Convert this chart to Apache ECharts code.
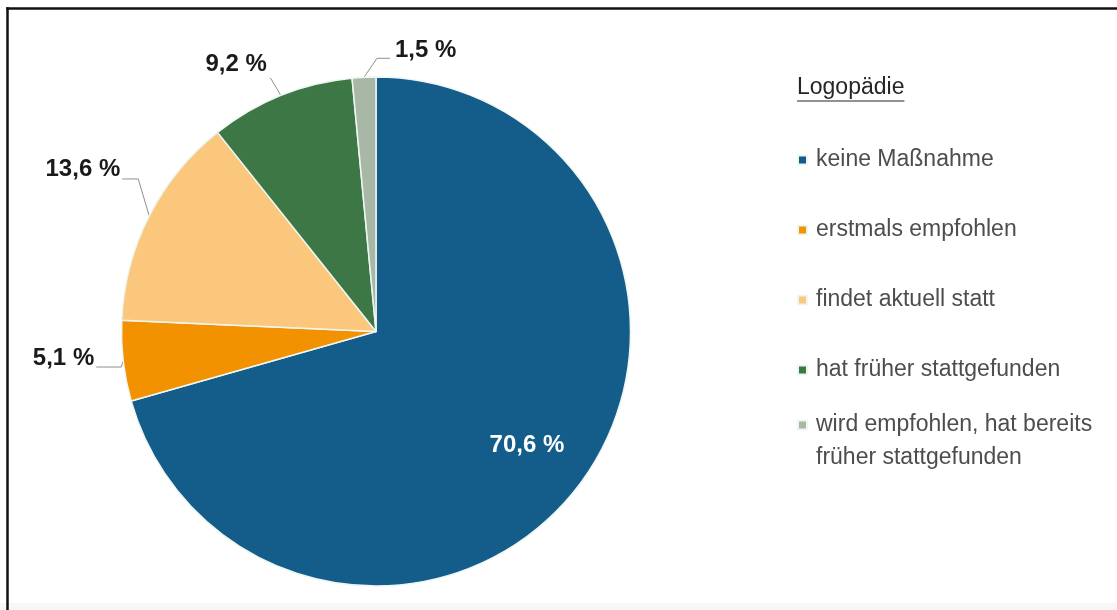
<!DOCTYPE html>
<html>
<head>
<meta charset="utf-8">
<script src="https://cdn.jsdelivr.net/npm/echarts@6/dist/echarts.min.js"></script>
<style>
  html, body { margin: 0; padding: 0; background: #ffffff; overflow: hidden; }
  #chart { width: 1117px; height: 610px; }
</style>
</head>
<body>
<div id="chart"></div>
<script>
// Logopädie – Anteile der Kinder nach Maßnahme (in %)
const seriesTitle = 'Logopädie';
const categories = [
  'keine Maßnahme',
  'erstmals empfohlen',
  'findet aktuell statt',
  'hat früher stattgefunden',
  'wird empfohlen, hat bereits\nfrüher stattgefunden'
];
const shares = [70.6, 5.1, 13.6, 9.2, 1.5];
const sliceColors = ['#145d8b', '#f39200', '#fac77c', '#3d7745', '#a9b8a6'];

// Leader-line layout, offsets from each slice's outer edge point
const labelGuides = [
  null,
  { bend: [-2, 6],   end: [-27, 6],   label: [-29, -3],  align: 'right' },
  { bend: [-11, -37], end: [-27, -37], label: [-29, -47], align: 'right' },
  { bend: [-10, -17], end: [-11, -17], label: [-14, -31], align: 'right' },
  { bend: [13, -19],  end: [26, -19],  label: [31, -27],  align: 'left' }
];

const fontFamily = '"Liberation Sans", Arial, Helvetica, sans-serif';
const fmtPct = v => v.toFixed(1).replace('.', ',') + ' %';

const chart = echarts.init(document.getElementById('chart'), null, { renderer: 'canvas' });

// width of the legend heading, for its underline
const measureCtx = document.createElement('canvas').getContext('2d');
measureCtx.font = '23px ' + fontFamily;
const titleWidth = measureCtx.measureText(seriesTitle).width;

const legendBase = {
  orient: 'vertical',
  left: 797,
  padding: 0,
  icon: 'rect',
  itemWidth: 9,
  itemHeight: 9,
  selectedMode: false,
  textStyle: {
    fontFamily: fontFamily,
    fontSize: 23,
    color: '#4d4d4d',
    padding: [0, 0, 0, 4]
  }
};

const option = {
  backgroundColor: '#ffffff',
  color: sliceColors,
  animation: false,
  title: {
    text: seriesTitle,
    left: 797,
    top: 76,
    padding: 0,
    textStyle: { fontFamily: fontFamily, fontSize: 23, fontWeight: 'normal', color: '#262626' }
  },
  legend: [
    Object.assign({}, legendBase, {
      top: 148.5,
      itemGap: 47,
      data: categories.slice(0, 4),
      textStyle: Object.assign({}, legendBase.textStyle, { lineHeight: 23 })
    }),
    // two-line entry: a leading empty line keeps the marker beside the first line
    Object.assign({}, legendBase, {
      top: 375.5,
      data: categories.slice(4),
      formatter: name => '\n' + name,
      textStyle: Object.assign({}, legendBase.textStyle, { lineHeight: 33 })
    })
  ],
  graphic: [
    {
      type: 'rect',
      silent: true,
      shape: { x: 0, y: 603, width: 1117, height: 7 },
      style: { fill: '#f7f7f7' }
    },
    // frame: left edge
    {
      type: 'line',
      silent: true,
      shape: { x1: 7.5, y1: 7.25, x2: 7.5, y2: 610 },
      style: { stroke: '#111111', lineWidth: 2.5 }
    },
    // frame: top edge
    {
      type: 'line',
      silent: true,
      shape: { x1: 6.25, y1: 8.5, x2: 1117, y2: 8.5 },
      style: { stroke: '#111111', lineWidth: 2.5 }
    },
    {
      type: 'line',
      silent: true,
      shape: { x1: 797, y1: 101, x2: 797 + titleWidth, y2: 101 },
      style: { stroke: '#262626', lineWidth: 1.2 }
    }
  ],
  series: [{
    name: seriesTitle,
    type: 'pie',
    center: [376, 331.5],
    radius: 254.5,
    startAngle: 90,
    clockwise: true,
    avoidLabelOverlap: false,
    itemStyle: { borderColor: '#eef6f2', borderWidth: 1.5 },
    emphasis: { disabled: true },
    label: {
      show: true,
      position: 'outside',
      formatter: p => fmtPct(p.value),
      fontFamily: fontFamily,
      fontSize: 24,
      fontWeight: 'bold',
      color: '#1a1a1a'
    },
    labelLine: {
      show: true,
      length: 15,
      length2: 15,
      lineStyle: { color: '#8f8f8f', width: 1 }
    },
    labelLayout: function (params) {
      const g = labelGuides[params.dataIndex];
      if (!g) {
        return { dx: 47, dy: 35 };
      }
      const p0 = params.labelLinePoints[0];
      return {
        x: p0[0] + g.label[0],
        y: p0[1] + g.label[1],
        align: g.align,
        verticalAlign: 'middle',
        labelLinePoints: [
          [p0[0], p0[1]],
          [p0[0] + g.bend[0], p0[1] + g.bend[1]],
          [p0[0] + g.end[0], p0[1] + g.end[1]]
        ]
      };
    },
    data: categories.map((name, i) => {
      const item = { name: name, value: shares[i] };
      if (i === 0) {
        item.label = { position: 'inside', color: '#ffffff' };
        item.labelLine = { show: false };
      }
      return item;
    })
  }]
};

chart.setOption(option);
</script>
</body>
</html>
